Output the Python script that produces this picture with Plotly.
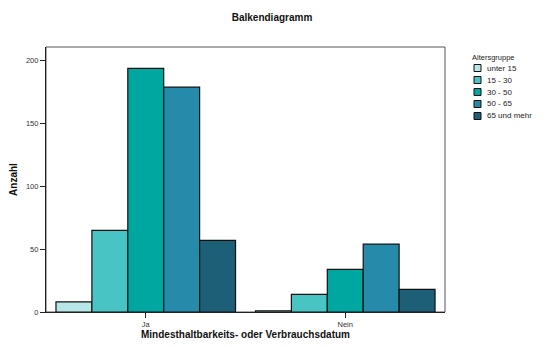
import plotly.graph_objects as go

categories = ["Ja", "Nein"]
groups = ["unter 15", "15 - 30", "30 - 50", "50 - 65", "65 und mehr"]
values = {
    "unter 15": [8, 1],
    "15 - 30": [65, 14],
    "30 - 50": [194, 34],
    "50 - 65": [179, 54],
    "65 und mehr": [57, 18],
}
colors = ["#b6e6e6", "#48c4c4", "#00a7a0", "#268aab", "#1d5f76"]
legend_title = "Altersgruppe"

# page offset (browser body margin)
OFF = 8
PAGE_W, PAGE_H = 545, 347
W, H = PAGE_W - OFF, PAGE_H - OFF
# plot area in page pixels
PL, PR, PT, PB = 46, 445, 47, 312
L, T = PL - OFF, PT - OFF
R, B = PAGE_W - PR, PAGE_H - PB

fig = go.Figure()
for g, c in zip(groups, colors):
    fig.add_trace(go.Bar(
        x=categories, y=values[g], name=g,
        marker=dict(color=c, line=dict(color="#111111", width=1.2)),
    ))

pw, ph = PR - PL, PB - PT
def px(x):
    return (x - PL) / pw
def py(y):
    return 1 - (y - PT) / ph

shapes = [dict(type="rect", xref="paper", yref="paper", x0=0, y0=0, x1=1, y1=1,
               line=dict(color="#555555", width=1), layer="below")]
annotations = [dict(text=legend_title, xref="paper", yref="paper", x=px(470), y=py(57),
                    xanchor="left", yanchor="middle", showarrow=False,
                    font=dict(size=7.5, color="#222222"))]
for i, (g, c) in enumerate(zip(groups, colors)):
    yc = 68 + 12 * i
    shapes.append(dict(type="rect", xref="paper", yref="paper",
                       x0=px(474), x1=px(481), y0=py(yc + 3.5), y1=py(yc - 3.5),
                       fillcolor=c, line=dict(color="#111111", width=1)))
    annotations.append(dict(text=g, xref="paper", yref="paper", x=px(485), y=py(yc),
                            xanchor="left", yanchor="middle", showarrow=False,
                            font=dict(size=8, color="#222222")))

fig.update_layout(
    width=W, height=H,
    margin=dict(l=L, r=R, t=T, b=B, autoexpand=False),
    paper_bgcolor="white", plot_bgcolor="white",
    barmode="group", bargap=0.1, bargroupgap=0,
    font=dict(family="Liberation Sans, Arial, sans-serif", size=8, color="#222222"),
    title=dict(text="<b>Balkendiagramm</b>", x=(272 - OFF) / W, xanchor="center", xref="container",
               y=1 - (17 - OFF) / H, yanchor="middle", yref="container",
               font=dict(size=10, color="#111111")),
    showlegend=False,
    xaxis=dict(
        title=dict(text="<b>Mindesthaltbarkeits- oder Verbrauchsdatum</b>",
                   font=dict(size=10, color="#111111"), standoff=2),
        automargin=False,
        showline=True, linecolor="#222222", linewidth=1.2, mirror=False,
        ticks="outside", ticklen=5, tickcolor="#222222",
        tickfont=dict(size=7.5, color="#333333"), showgrid=False,
    ),
    yaxis=dict(
        title=dict(text="<b>Anzahl</b>", font=dict(size=10, color="#111111"), standoff=8),
        automargin=False,
        range=[0, 211], tickvals=[0, 50, 100, 150, 200],
        showline=True, linecolor="#222222", linewidth=1.2,
        ticks="outside", ticklen=5, tickcolor="#222222",
        tickfont=dict(size=7.5, color="#333333"), showgrid=False, zeroline=False,
    ),
    shapes=shapes,
    annotations=annotations,
)

fig.write_html("out.html")
